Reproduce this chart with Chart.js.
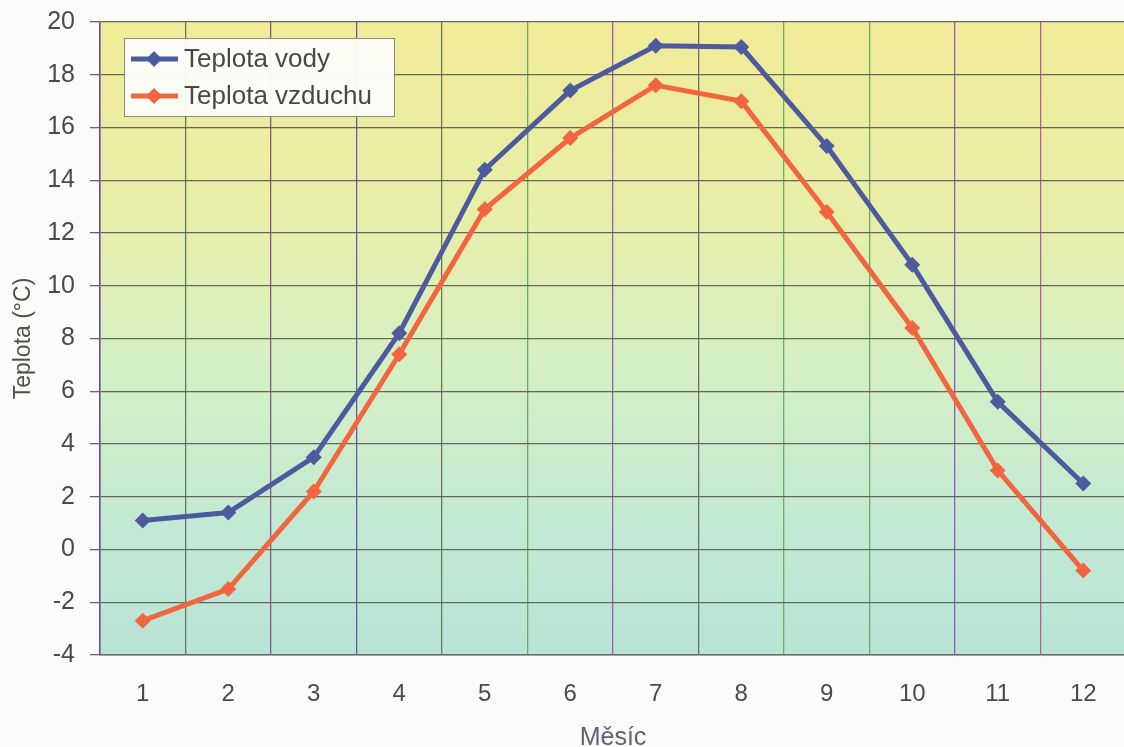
<!DOCTYPE html>
<html>
<head>
<meta charset="utf-8">
<title>Teplota vody a vzduchu</title>
<script src="https://cdn.jsdelivr.net/npm/chart.js@4.4.1/dist/chart.umd.min.js"></script>
<style>
  html, body { margin: 0; padding: 0; background: #fbfbf9; overflow: hidden; }
  #wrap { width: 1124px; height: 747px; overflow: hidden; }
</style>
</head>
<body>
<div id="wrap"><canvas id="teploty" width="1134" height="747"></canvas></div>
<script>
const months = ['1', '2', '3', '4', '5', '6', '7', '8', '9', '10', '11', '12'];
const waterTemp = [1.1, 1.4, 3.5, 8.2, 14.4, 17.4, 19.1, 19.05, 15.3, 10.8, 5.6, 2.5];
const airTemp = [-2.7, -1.5, 2.2, 7.4, 12.9, 15.6, 17.6, 17.0, 12.8, 8.4, 3.0, -0.8];
const yTicks = [-4, -2, 0, 2, 4, 6, 8, 10, 12, 14, 16, 18, 20];

const FONT = 'Liberation Sans, Arial, sans-serif';
const BLUE = '#4e5a9e';
const ORANGE = '#f2663f';

// vertical grid lines come out in slightly different tints
const vLineColors = ['#6a4f9e', '#5f7a66', '#8a5a86', '#6a58a6', '#6d7a5a', '#68a868',
  '#9462b0', '#6e6e6e', '#64b064', '#6aa86a', '#8c5cc0', '#b06494', '#707070'];

const plotBackground = {
  id: 'plotBackground',
  beforeDraw(chart) {
    const { ctx, chartArea: a } = chart;
    const g = ctx.createLinearGradient(0, a.top, 0, a.bottom);
    g.addColorStop(0, '#f0eb98');
    g.addColorStop(0.3, '#e8eea8');
    g.addColorStop(0.55, '#d4efc4');
    g.addColorStop(0.8, '#c2e9d4');
    g.addColorStop(1, '#b8e4d6');
    ctx.save();
    ctx.fillStyle = g;
    ctx.fillRect(a.left, a.top, a.right - a.left, a.bottom - a.top);
    ctx.restore();
  }
};

// boxed legend in the upper left corner of the plot
const boxLegend = {
  id: 'boxLegend',
  afterDraw(chart) {
    const { ctx } = chart;
    const x = 124, y = 38, w = 270, h = 78;
    ctx.save();
    ctx.fillStyle = 'rgba(253,253,250,0.96)';
    ctx.fillRect(x, y, w, h);
    ctx.strokeStyle = '#8a8a8a';
    ctx.lineWidth = 1;
    ctx.strokeRect(x + 0.5, y + 0.5, w, h);
    chart.data.datasets.forEach((ds, i) => {
      const cy = 59 + i * 37;
      ctx.strokeStyle = ds.borderColor;
      ctx.lineWidth = 5;
      ctx.beginPath();
      ctx.moveTo(131, cy);
      ctx.lineTo(178, cy);
      ctx.stroke();
      ctx.fillStyle = ds.borderColor;
      ctx.beginPath();
      ctx.moveTo(154, cy - 8);
      ctx.lineTo(162, cy);
      ctx.lineTo(154, cy + 8);
      ctx.lineTo(146, cy);
      ctx.closePath();
      ctx.fill();
      ctx.fillStyle = '#484848';
      ctx.font = '26px ' + FONT;
      ctx.textBaseline = 'middle';
      ctx.fillText(ds.label, 184, cy + 1);
    });
    ctx.restore();
  }
};

new Chart(document.getElementById('teploty'), {
  type: 'line',
  data: {
    labels: months,
    datasets: [{
      label: 'Teplota vody',
      data: waterTemp,
      borderColor: BLUE,
      backgroundColor: BLUE,
      borderWidth: 5,
      pointStyle: 'rectRot',
      pointRadius: 8,
      pointBorderWidth: 0,
      tension: 0
    }, {
      label: 'Teplota vzduchu',
      data: airTemp,
      borderColor: ORANGE,
      backgroundColor: ORANGE,
      borderWidth: 5,
      pointStyle: 'rectRot',
      pointRadius: 8,
      pointBorderWidth: 0,
      tension: 0
    }]
  },
  options: {
    responsive: false,
    animation: false,
    layout: { padding: { top: 22, left: 0, right: 1, bottom: 0 } },
    plugins: {
      legend: { display: false },
      tooltip: { enabled: false }
    },
    scales: {
      x: {
        offset: true,
        grid: {
          offset: true,
          drawTicks: false,
          lineWidth: 1.3,
          color: ctx => vLineColors[ctx.index % vLineColors.length]
        },
        border: { color: '#6f6f6f', width: 1.5 },
        ticks: {
          padding: 25,
          color: '#4a4a4a',
          font: { family: FONT, size: 24 }
        },
        title: {
          display: true,
          text: 'Měsíc',
          color: '#6a5a78',
          font: { family: FONT, size: 25 },
          padding: { top: 4, bottom: -6 }
        },
        afterFit: s => { s.height = 92; }
      },
      y: {
        min: -4,
        max: 20,
        afterBuildTicks: s => { s.ticks = yTicks.map(v => ({ value: v })); },
        grid: {
          color: '#66665e',
          lineWidth: 1.3,
          tickLength: 10,
          tickColor: '#66665e'
        },
        border: { color: '#6a4f9e', width: 1.5 },
        ticks: {
          padding: 15,
          color: '#4a4a4a',
          font: { family: FONT, size: 25 }
        },
        title: {
          display: true,
          text: 'Teplota (°C)',
          color: '#4f4f4a',
          font: { family: FONT, size: 23 },
          padding: { top: 10, bottom: 4 }
        },
        afterFit: s => {
          s.width = 100;
          s.paddingTop = 0;
          s.paddingBottom = 0;
        }
      }
    }
  },
  plugins: [plotBackground, boxLegend]
});
</script>
</body>
</html>
